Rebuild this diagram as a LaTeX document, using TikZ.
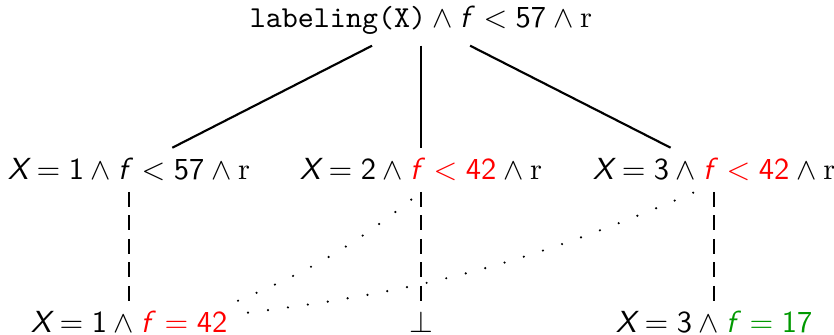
\documentclass[tikz,border=0pt]{standalone}
\usepackage{amsmath}
\usepackage{amssymb}
\usepackage{tikz}
\usetikzlibrary{arrows.meta, positioning}

\newcommand{\sv}[1]{\textsf{\itshape #1}}
\newcommand{\sn}[1]{\textsf{#1}}

\begin{document}
\begin{tikzpicture}[
  goal/.style={anchor=base, inner sep=3.33pt},
  branch/.style={line width=0.7pt},
  deriv/.style={line width=0.7pt, dash pattern=on 4.9pt off 2.8pt},
  link/.style={line width=0.8pt, line cap=round, dash pattern=on 0pt off 6.6pt}
]
\useasboundingbox (0,0) rectangle (9.61,3.86);
% root
\node[goal] (root) at (4.851,3.538) {$\texttt{labeling(X)} \wedge \sv{f\/} < \sn{57} \wedge \mathrm{r}$};

% row 1: the three labelings
\node[goal] (x1) at (1.487,1.786) {$\sv{X} = \sn{1} \wedge \sv{f\/} < \sn{57} \wedge \mathrm{r}$};
\node[goal] (x2) at (4.851,1.786) {$\sv{X} = \sn{2} \wedge {\color{red}\sv{f\/} < \sn{42}} \wedge \mathrm{r}$};
\node[goal] (x3) at (8.228,1.786) {$\sv{X} = \sn{3} \wedge {\color{red}\sv{f\/} < \sn{42}} \wedge \mathrm{r}$};

% row 2: answers
\node[goal] (a1) at (1.487,0.023) {$\sv{X} = \sn{1} \wedge {\color{red}\sv{f\/} = \sn{42}}$};
\node[goal] (a2) at (4.851,0.023) {$\bot$};
\node[goal] (a3) at (8.228,0.023) {$\sv{X} = \sn{3} \wedge {\color{green!60!black}\sv{f\/} = \sn{17}}$};

\draw[branch] (root) -- (x1);
\draw[branch] (root) -- (x2);
\draw[branch] (root) -- (x3);
\draw[deriv] (x1) -- (a1);
\draw[deriv] (x2) -- (a2);
\draw[deriv] (x3) -- (a3);
\draw[link] (a1.north east) to[bend right=8] (x2.south);
\draw[link] ([shift={(0.115cm,-0.138cm)}]a1.north east) to[bend right=8] ([xshift=-0.22cm]x3.south);
\end{tikzpicture}
\end{document}
